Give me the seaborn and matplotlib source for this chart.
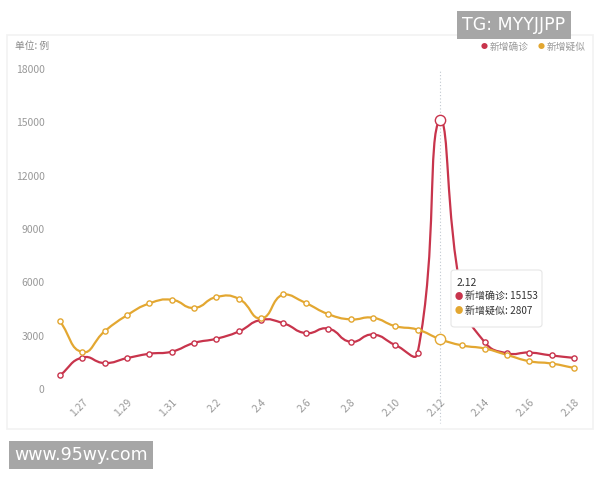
import numpy as np
import pandas as pd
import matplotlib
matplotlib.use("Agg")
import matplotlib.pyplot as plt
import seaborn as sns
from matplotlib.path import Path
from matplotlib.patches import PathPatch, FancyBboxPatch, Rectangle

dates = ["1.26", "1.27", "1.28", "1.29", "1.30", "1.31", "2.1", "2.2", "2.3", "2.4",
         "2.5", "2.6", "2.7", "2.8", "2.9", "2.10", "2.11", "2.12", "2.13", "2.14",
         "2.15", "2.16", "2.17", "2.18"]
confirmed = [769, 1771, 1459, 1737, 1982, 2102, 2590, 2829, 3235, 3887,
             3694, 3143, 3399, 2656, 3062, 2478, 2015, 15153, 5090, 2641,
             2009, 2048, 1886, 1749]
suspected = [3806, 2077, 3248, 4148, 4812, 5019, 4562, 5173, 5072, 3971,
             5328, 4833, 4214, 3916, 4008, 3536, 3342, 2807, 2450, 2277,
             1918, 1563, 1432, 1185]
y_ticks = [0, 3000, 6000, 9000, 12000, 15000, 18000]
series_names = ["新增确诊", "新增疑似"]
colors = ["#c8344c", "#e3a731"]
hover_idx = 17

df = pd.DataFrame({"idx": range(len(dates)), "date": dates,
                   series_names[0]: confirmed, series_names[1]: suspected})

sns.set_style("white")
plt.rcParams["font.family"] = ["Noto Sans CJK SC", "DejaVu Sans"]

fig = plt.figure(figsize=(6, 4.8), dpi=100)
ax = fig.add_axes([60 / 600, 91 / 480, 514 / 600, 320 / 480])
ax.set_xlim(0, len(dates) - 1)
ax.set_ylim(0, 18000)

# pixel scale used for echarts-like smoothing
sx = 514 / (len(dates) - 1)
sy = 320 / 18000


def smooth_path(xs, ys, smooth=0.5):
    # bezier smoothing like echarts: control points clamped to the data box
    p = np.column_stack([np.asarray(xs, float) * sx, np.asarray(ys, float) * sy])
    lo, hi = p.min(axis=0), p.max(axis=0)
    n = len(p)
    cps = []
    for i in range(n):
        prev = p[max(i - 1, 0)]
        nxt = p[min(i + 1, n - 1)]
        v = (nxt - prev) * smooth
        d0 = np.linalg.norm(p[i] - prev)
        d1 = np.linalg.norm(nxt - p[i])
        r = d0 / (d0 + d1) if d0 + d1 > 0 else 0.5
        c0 = np.clip(p[i] - v * r, lo, hi)
        c1 = np.clip(p[i] + v * (1 - r), lo, hi)
        cps.append((c0, c1))
    verts = [p[0]]
    codes = [Path.MOVETO]
    for i in range(n - 1):
        verts += [cps[i][1], cps[i + 1][0], p[i + 1]]
        codes += [Path.CURVE4] * 3
    verts = np.array(verts) / [sx, sy]
    return Path(verts, codes)


# hover line
ax.axvline(hover_idx, ymin=0, ymax=1.0, color="#c0c8d0", lw=0.8, ls=(0, (1, 2)), zorder=1)
ax.plot([hover_idx, hover_idx], [0, -1900], color="#c0c8d0", lw=0.8, ls=(0, (1, 2)),
        clip_on=False, zorder=1)

for name, col in zip(series_names, colors):
    ax.add_patch(PathPatch(smooth_path(df["idx"], df[name]), fill=False,
                           edgecolor=col, lw=1.6, zorder=3, clip_on=False))
    sns.scatterplot(data=df, x="idx", y=name, ax=ax, marker="o", s=14,
                    facecolor="white", edgecolor=col, linewidth=1.0, zorder=4,
                    clip_on=False)
    ax.scatter([hover_idx], [df[name][hover_idx]], s=55, facecolor="white",
               edgecolor=col, linewidth=1.0, zorder=5, clip_on=False)

ax.set_xticks(range(1, len(dates), 2))
ax.set_xticklabels(dates[1::2], rotation=45, ha="right", va="top",
                   rotation_mode="anchor", fontsize=7.5, color="#999999")
ax.set_yticks(y_ticks)
ax.set_yticklabels([str(v) for v in y_ticks], fontsize=7.5, color="#999999")
ax.tick_params(axis="both", length=0, pad=6)
ax.tick_params(axis="y", pad=11)
ax.set_xlabel("")
ax.set_ylabel("")
for s in ax.spines.values():
    s.set_visible(False)
ax.grid(False)

# faint chart frame
fig.patches.append(Rectangle((7 / 600, 1 - 429 / 480), 586 / 600, 394 / 480,
                             transform=fig.transFigure, fill=False,
                             edgecolor="#f2f2f2", lw=1.2, zorder=0))

fig.text(15 / 600, 1 - 46 / 480, "单位: 例", fontsize=7, color="#888888", va="center")

# legend
lx = [484, 541]
for name, col, x in zip(series_names, colors, lx):
    fig.text(x / 600, 1 - 47 / 480, "●", color=col, fontsize=5, va="center", ha="center")
    fig.text((x + 6) / 600, 1 - 47 / 480, name, color="#999999", fontsize=7, va="center")

# tooltip
fig.patches.append(FancyBboxPatch((451 / 600, 1 - 327 / 480), 91 / 600, 57 / 480,
                                  boxstyle="round,pad=0,rounding_size=0.006",
                                  transform=fig.transFigure, facecolor="white",
                                  edgecolor="#e6e6e6", lw=0.8, zorder=6))
fig.text(457 / 600, 1 - 283 / 480, dates[hover_idx], fontsize=7.5, color="#333333",
         va="center", zorder=7)
for k, (name, col, vals) in enumerate(zip(series_names, colors, [confirmed, suspected])):
    yy = 1 - (296 + k * 15) / 480
    fig.text(459 / 600, yy, "●", color=col, fontsize=6, va="center", ha="center", zorder=7)
    fig.text(465 / 600, yy, f"{name}: {vals[hover_idx]}", fontsize=7.2, color="#333333",
             va="center", zorder=7)

# watermarks
fig.text(514 / 600, 1 - 25 / 480, "TG: MYYJJPP", fontsize=12.5, color="white",
         ha="center", va="center", family="DejaVu Sans",
         bbox=dict(boxstyle="square,pad=0.3", facecolor="#a6a6a6", edgecolor="none"))
fig.text(81 / 600, 1 - 455 / 480, "www.95wy.com", fontsize=12.5, color="white",
         ha="center", va="center", family="DejaVu Sans",
         bbox=dict(boxstyle="square,pad=0.3", facecolor="#a6a6a6", edgecolor="none"))

fig.savefig("out.png", dpi=100)
plt.close()
